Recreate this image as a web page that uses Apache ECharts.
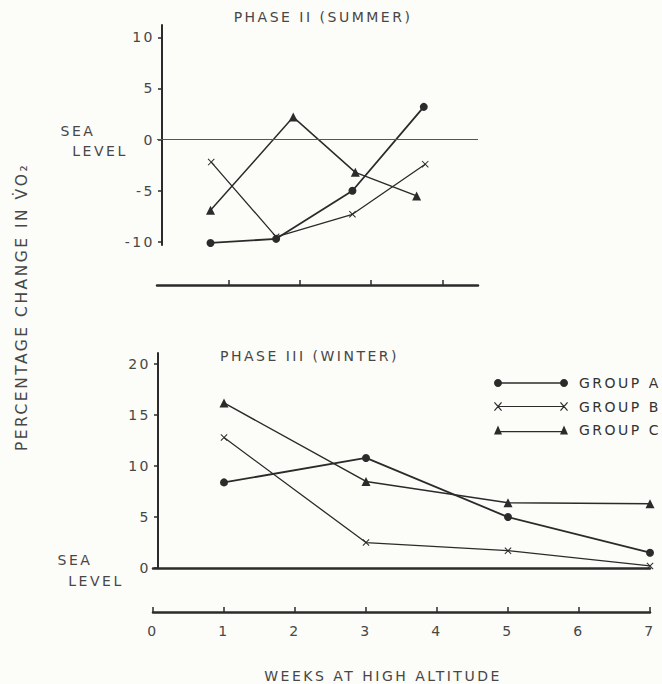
<!DOCTYPE html>
<html>
<head>
<meta charset="utf-8">
<script src="https://cdn.jsdelivr.net/npm/echarts@6/dist/echarts.min.js"></script>
<style>
html,body{margin:0;padding:0;background:#fcfcf8;}
#chart{width:662px;height:684px;}
#chart text{letter-spacing:2.5px;}
</style>
</head>
<body>
<div id="chart"></div>
<script>
// ---- data ----
const groupNames = ['GROUP A', 'GROUP B', 'GROUP C'];

// Phase II (summer): weeks at high altitude and % change in VO2
const summerWeeksA = [0.75, 1.67, 2.74, 3.74];
const summerA      = [-10.1, -9.7, -5.0, 3.2];
const summerWeeksB = [0.76, 1.67, 2.74, 3.76];
const summerB      = [-2.2, -9.5, -7.3, -2.4];
const summerWeeksC = [0.75, 1.91, 2.78, 3.64];
const summerC      = [-6.9, 2.2, -3.2, -5.5];

// Phase III (winter)
const winterWeeks = [1, 3, 5, 7];
const winterA     = [8.4, 10.8, 5.0, 1.5];
const winterB     = [12.8, 2.5, 1.7, 0.2];
const winterC     = [16.2, 8.5, 6.4, 6.3];

const summerYTicks = [-10, -5, 0, 5, 10];
const winterYTicks = [0, 5, 10, 15, 20];
const weekTicks    = [0, 1, 2, 3, 4, 5, 6, 7];
const summerWeekTicks = [1, 2, 3, 4];

// ---- styling ----
const INK = '#2b2b2b';
const TXT = '#474747';
const FONT = 'DejaVu Sans';
const crossPath = 'path://M0,1 L1,0 L10,9 L9,10 Z M9,0 L10,1 L1,10 L0,9 Z';
const symbols = ['circle', crossPath, 'triangle'];
const symbolSizes = [8, 7, 9];
const lineWidths = [1.8, 1.3, 1.5];

function circ(cx) {
  return 'M' + (cx - 4) + ',4.5 C' + (cx - 4) + ',2.3 ' + (cx - 2.2) + ',0.5 ' + cx + ',0.5 C' + (cx + 2.2) + ',0.5 ' + (cx + 4) + ',2.3 ' + (cx + 4) + ',4.5 C' + (cx + 4) + ',6.7 ' + (cx + 2.2) + ',8.5 ' + cx + ',8.5 C' + (cx - 2.2) + ',8.5 ' + (cx - 4) + ',6.7 ' + (cx - 4) + ',4.5 Z ';
}
const legendIcons = [
  'path://' + circ(4) + circ(70) + 'M6,3.8 L68,3.8 L68,5.2 L6,5.2 Z',
  'path://M0,0.8 L0.9,0 L8,8.2 L7.1,9 Z M7.1,0 L8,0.8 L0.9,9 L0,8.2 Z M66,0.8 L66.9,0 L74,8.2 L73.1,9 Z M73.1,0 L74,0.8 L66.9,9 L66,8.2 Z M4,4.1 L70,4.1 L70,4.9 L4,4.9 Z',
  'path://M0,9 L4,0 L8,9 Z M66,9 L70,0 L74,9 Z M4,5.6 L70,5.6 L70,6.8 L4,6.8 Z'
];

function pairs(xs, ys) { return xs.map((x, i) => [x, ys[i]]); }

const summerData = [pairs(summerWeeksA, summerA), pairs(summerWeeksB, summerB), pairs(summerWeeksC, summerC)];
const winterData = [pairs(winterWeeks, winterA), pairs(winterWeeks, winterB), pairs(winterWeeks, winterC)];

const series = [];
groupNames.forEach((name, i) => {
  const base = {
    name: name,
    type: 'line',
    symbol: symbols[i],
    symbolSize: symbolSizes[i],
    showSymbol: true,
    color: INK,
    itemStyle: { color: INK },
    lineStyle: { color: INK, width: lineWidths[i] },
    emphasis: { disabled: true },
    animation: false
  };
  const s = Object.assign({}, base, { xAxisIndex: 0, yAxisIndex: 0, data: summerData[i] });
  if (i === 0) {
    s.markLine = {
      silent: true, symbol: ['none', 'none'], label: { show: false },
      lineStyle: { color: '#555', width: 1, type: 'solid' },
      data: [{ yAxis: 0 }]
    };
  }
  series.push(s);
  series.push(Object.assign({}, base, { xAxisIndex: 2, yAxisIndex: 1, data: winterData[i] }));
});

const axisText = { fontFamily: FONT, fontSize: 14, color: TXT };

const option = {
  backgroundColor: '#fcfcf8',
  animation: false,
  textStyle: { fontFamily: FONT },
  grid: [
    { left: 157, top: 25, width: 321, height: 220 },
    { left: 153, top: 353, width: 497, height: 215 }
  ],
  legend: {
    orient: 'vertical', left: 489, top: 371,
    itemWidth: 74, itemHeight: 9, itemGap: 9.5,
    selectedMode: false,
    textStyle: { fontFamily: FONT, fontSize: 14, color: '#333', padding: [0, 0, 0, 6] },
    data: groupNames.map((n, i) => ({ name: n, icon: legendIcons[i] }))
  },
  xAxis: [
    {
      gridIndex: 0, type: 'value', min: 0, max: 4.5, position: 'bottom', offset: 40,
      axisLine: { onZero: false, lineStyle: { color: INK, width: 2.5 } },
      axisTick: { inside: true, length: 5, customValues: summerWeekTicks, lineStyle: { color: INK, width: 1.5 } },
      axisLabel: { show: false }, splitLine: { show: false }
    },
    {
      gridIndex: 1, type: 'value', min: 0, max: 7, position: 'bottom', offset: 0,
      axisLine: { onZero: false, lineStyle: { color: INK, width: 2.5 } },
      axisTick: { show: false }, axisLabel: { show: false }, splitLine: { show: false }
    },
    {
      gridIndex: 1, type: 'value', min: 0, max: 7, interval: 1, position: 'bottom', offset: 44,
      axisLine: { onZero: false, lineStyle: { color: INK, width: 2.5 } },
      axisTick: { inside: true, length: 5, customValues: weekTicks, lineStyle: { color: INK, width: 1.5 } },
      axisLabel: Object.assign({ margin: 12, customValues: weekTicks }, axisText),
      splitLine: { show: false }
    }
  ],
  yAxis: [
    {
      gridIndex: 0, type: 'value', min: -10.3, max: 11.2, offset: -5,
      axisLine: { show: true, onZero: false, lineStyle: { color: INK, width: 2 } },
      axisTick: { show: true, length: 4, customValues: summerYTicks, lineStyle: { color: INK, width: 1.5 } },
      axisLabel: Object.assign({ margin: 7, customValues: summerYTicks }, axisText),
      splitLine: { show: false }
    },
    {
      gridIndex: 1, type: 'value', min: 0, max: 21.1, offset: -5,
      axisLine: { show: true, onZero: false, lineStyle: { color: INK, width: 2 } },
      axisTick: { show: true, length: 4, customValues: winterYTicks, lineStyle: { color: INK, width: 1.5 } },
      axisLabel: Object.assign({ margin: 7, customValues: winterYTicks }, axisText),
      splitLine: { show: false }
    }
  ],
  graphic: [
    { type: 'text', x: 323, y: 17, style: { text: 'PHASE II (SUMMER)', font: '14px ' + FONT, fill: TXT, align: 'center', verticalAlign: 'middle' } },
    { type: 'text', x: 220, y: 356, style: { text: 'PHASE III (WINTER)', font: '14px ' + FONT, fill: TXT, align: 'left', verticalAlign: 'middle' } },
    { type: 'text', x: 383, y: 676, style: { text: 'WEEKS AT HIGH ALTITUDE', font: '14px ' + FONT, fill: TXT, align: 'center', verticalAlign: 'middle' } },
    { type: 'text', x: 22, y: 307, rotation: Math.PI / 2, style: { text: 'PERCENTAGE CHANGE IN V\u0307O\u2082', font: '15.5px ' + FONT, fill: TXT, align: 'center', verticalAlign: 'middle' } },
    { type: 'text', x: 78, y: 131, style: { text: 'SEA', font: '14px ' + FONT, fill: TXT, align: 'center', verticalAlign: 'middle' } },
    { type: 'text', x: 100, y: 151, style: { text: 'LEVEL', font: '14px ' + FONT, fill: TXT, align: 'center', verticalAlign: 'middle' } },
    { type: 'text', x: 75, y: 560, style: { text: 'SEA', font: '14px ' + FONT, fill: TXT, align: 'center', verticalAlign: 'middle' } },
    { type: 'text', x: 96, y: 581, style: { text: 'LEVEL', font: '14px ' + FONT, fill: TXT, align: 'center', verticalAlign: 'middle' } }
  ],
  series: series
};

const chart = echarts.init(document.getElementById('chart'), null, { renderer: 'svg' });
chart.setOption(option);
</script>
</body>
</html>
